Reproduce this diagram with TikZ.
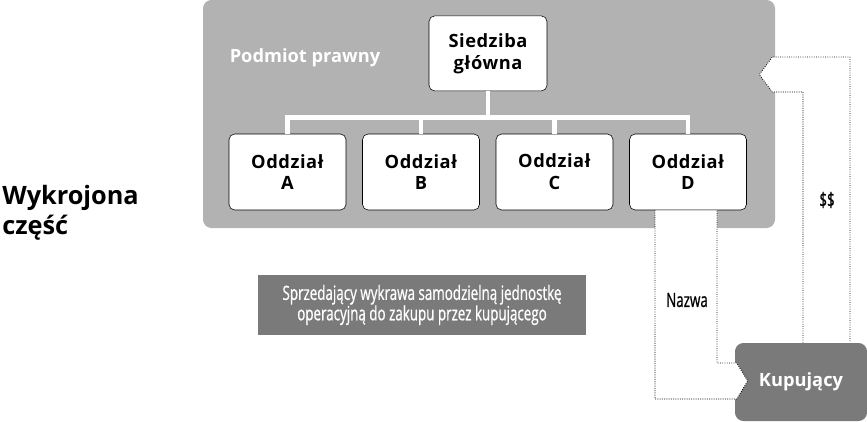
\documentclass[tikz,border=0pt]{standalone}
\usepackage{fontspec}
\setmainfont{Open Sans}
\newfontfamily\boxfont[LetterSpace=3]{Open Sans}
\newfontfamily\narrowfont[FakeStretch=0.68, FakeBold=0.7]{Open Sans}
\definecolor{entitygray}{RGB}{178,178,178}
\definecolor{buyergray}{RGB}{122,122,122}
\usetikzlibrary{calc}
\tikzset{
  unitbox/.style={draw=black, fill=white, rounded corners=4pt, minimum width=2.925cm, minimum height=1.9cm, font=\boxfont\fontsize{13}{15.5}\selectfont\bfseries, align=center},
  tree/.style={draw=white, line width=3.5pt},
  pipe/.style={draw=black, fill=white, densely dotted, line width=0.6pt},
  pipelabel/.style={font=\narrowfont\fontsize{14}{16}\selectfont},
}

\begin{document}
\begin{tikzpicture}
  \useasboundingbox (0,0) rectangle (21.675,10.525);

  % Legal entity with its units
  \node[fill=entitygray, rounded corners=6pt, minimum width=14.3cm, minimum height=5.7cm] (entity) at (12.225,7.675) {};
  \node[font=\fontsize{13}{15}\selectfont\bfseries, text=white] (entlabel) at (7.625,9.075) {Podmiot prawny};
  \node[unitbox, minimum width=2.95cm, minimum height=1.875cm] (hq) at (12.2,9.19) {Siedziba\\główna};
  \node[unitbox] (oA) at (7.1875,6.225) {Oddział\\A};
  \node[unitbox] (oB) at (10.525,6.225) {Oddział\\B};
  \node[unitbox] (oC) at (13.8625,6.225) {Oddział\\C};
  \node[unitbox] (oD) at (17.2,6.225) {Oddział\\D};

  \draw[tree] (hq.south) -- ++(0,-0.65) coordinate (bus);
  \draw[tree] (oA.north) -- (oA.north |- bus) -- (oD.north |- bus) -- (oD.north);
  \draw[tree] (oB.north) -- (oB.north |- bus);
  \draw[tree] (oC.north) -- (oC.north |- bus);

  % Carve-out label
  \node[font=\fontsize{18}{21.5}\selectfont\bfseries, align=left, anchor=west, inner sep=0pt] (carve) at (0.05,5.2) {Wykrojona\\część};
  \node[fill=buyergray, minimum width=8.2cm, minimum height=1.5cm, text=white, align=center, font=\narrowfont\fontsize{14}{14.5}\selectfont] (note) at (10.55,2.9) {Sprzedający wykrawa samodzielną jednostkę\\operacyjną do zakupu przez kupującego};

  % Buyer
  \node[fill=buyergray, rounded corners=6pt, minimum width=3.3cm, minimum height=1.95cm, text=white, font=\fontsize{13}{15}\selectfont\bfseries] (kup) at (20.025,0.975) {Kupujący};

  % Payment to the entity
  \draw[pipe] ($(kup.north)+(0.05,0)$) |- ($(entity.east)+(-0.075,0.55)$) -- ($(entity.east)+(-0.4,0.985)$) -- ($(entity.east)+(-0.075,1.425)$) -| ($(kup.north)+(1.225,0)$);
  \node[pipelabel] (money) at (20.675,5.525) {\$\$};

  % Name passes to the buyer
  \draw[pipe] ($(oD.south)+(-0.825,0)$) |- ($(kup.west)+(0.05,-0.425)$) -- ($(kup.west)+(0.325,0.025)$) -- ($(kup.west)+(0.05,0.475)$) -| ($(oD.south)+(0.725,0)$);
  \node[pipelabel] (name) at (17.175,3.025) {Nazwa};
\end{tikzpicture}
\end{document}
